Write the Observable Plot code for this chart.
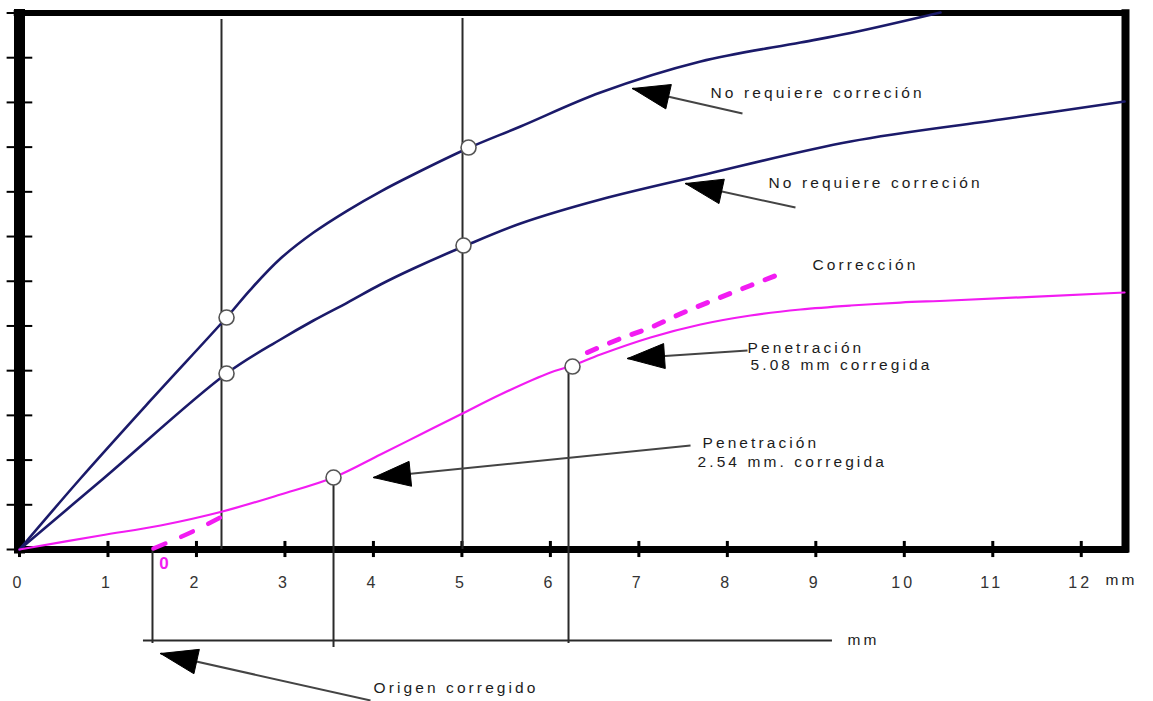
<!DOCTYPE html>
<html><head><meta charset="utf-8">
<script src="https://cdn.jsdelivr.net/npm/d3@7"></script>
<script src="https://cdn.jsdelivr.net/npm/@observablehq/plot@0.6"></script>
<style>body{margin:0;background:#fff;overflow:hidden}</style>
</head><body><div id="chart"></div>
<script>
// ---- data (mm on x, load units on y) ----
const xTicks = [0,1,2,3,4,5,6,7,8,9,10,11,12];
const yTicks = [0,1,2,3,4,5,6,7,8,9,10,11,12];
const xTickLabels = ["0","1","2","3","4","5","6","7","8","9","10","11","12"];

const curveUpper = [[0,0],[0.689,1.588],[1.481,3.333],[2.340,5.189],[2.611,5.815],[2.950,6.508],[3.323,7.090],[3.707,7.582],[4.080,8.007],[4.453,8.388],[5.075,8.980],[5.662,9.461],[6.566,10.221],[7.697,10.915],[8.827,11.340],[9.392,11.552],[10.409,12.011]];
const curveLower = [[0,0],[0.949,1.588],[2.340,3.936],[2.950,4.697],[3.323,5.122],[3.707,5.524],[4.080,5.927],[4.453,6.285],[5.018,6.777],[5.662,7.291],[6.566,7.828],[7.697,8.365],[9.392,9.125],[11.087,9.617],[12.489,10.020]];
const curveMeasured = [[0,0],[0.915,0.313],[1.594,0.537],[2.294,0.850],[2.950,1.230],[3.549,1.610],[4.080,2.125],[4.532,2.572],[4.984,3.019],[5.436,3.467],[6.001,3.959],[6.250,4.115],[6.566,4.361],[7.132,4.742],[7.697,5.032],[8.262,5.234],[8.827,5.368],[9.392,5.457],[9.957,5.524],[10.522,5.569],[12.489,5.748]];
const correctionLow = [[1.514,0.022],[1.910,0.358],[2.294,0.738]];
const correctionHigh = [[6.419,4.406],[6.793,4.719],[7.132,4.965],[7.505,5.301],[7.889,5.614],[8.262,5.905],[8.635,6.195]];

const circles = [[2.340,5.189],[2.340,3.936],[5.075,8.991],[5.018,6.799],[3.549,1.610],[6.250,4.093]];
const fullVerticals = [[2.283,11.854],[5.007,11.877]];
const dropLines = [[1.503,0,-2.102],[3.549,1.61,-2.192],[6.205,4.093,-2.102]];
const correctedAxis = {x1:1.401, x2:9.188, y:-2.035};

const arrows = [
  {tip:[6.928,10.311], tail:[8.171,9.752]},
  {tip:[7.527,8.186], tail:[8.770,7.649]},
  {tip:[6.872,4.272], tail:[8.228,4.451]},
  {tip:[4.001,1.610], tail:[7.584,2.326]},
  {tip:[1.594,-2.326], tail:[3.967,-3.377]}
];
const labels = [
  {x:7.810, y:10.221, text:"No requiere correción"},
  {x:8.465, y:8.186, text:"No requiere correción"},
  {x:8.962, y:6.352, text:"Corrección"},
  {x:8.228, y:4.496, text:"Penetración"},
  {x:8.262, y:4.115, text:"5.08 mm corregida"},
  {x:7.719, y:2.371, text:"Penetración"},
  {x:7.663, y:1.946, text:"2.54 mm. corregida"},
  {x:4.001, y:-3.109, text:"Origen corregido"},
  {x:9.358, y:-2.035, text:"mm"},
  {x:12.274, y:-0.693, text:"mm"}
];
const correctedZero = {x:1.650, y:-0.313, text:"0"};

// ---- layout ----
const W = 1153, H = 701;
const mL = 19, mR = 28, mT = 12.5, mB = 152;
const xDom = [0, 12.5], yDom = [0, 12];
const kx = (W - mL - mR) / (xDom[1] - xDom[0]);
const ky = (H - mT - mB) / (yDom[1] - yDom[0]);

function head(a, L, Wd, id) {
  const [tx, ty] = a.tip, [sx, sy] = a.tail;
  const dx = (sx - tx) * kx, dy = -(sy - ty) * ky;
  const len = Math.hypot(dx, dy), ux = dx / len, uy = dy / len;
  const pts = [[0,0],[ux*L - uy*Wd, uy*L + ux*Wd],[ux*L + uy*Wd, uy*L - ux*Wd],[0,0]];
  return pts.map(([ox, oy]) => ({x: tx + ox / kx, y: ty - oy / ky, id}));
}
const heads = arrows.flatMap((a, i) => head(a, 37, 12.5, i));
const toXY = (arr) => arr.map(([x, y]) => ({x, y}));

const blue = "#1b1a6a", magenta = "#f21cf2", ink = "#2a2a2a", textInk = "#1c1c1c";

const plot = Plot.plot({
  width: W, height: H,
  marginLeft: mL, marginRight: mR, marginTop: mT, marginBottom: mB,
  x: {domain: xDom, axis: null},
  y: {domain: yDom, axis: null},
  style: {fontFamily: "'Liberation Sans', Arial, sans-serif", background: "#fff", letterSpacing: "3.1px"},
  marks: [
    // frame
    Plot.ruleX([0], {y1: -0.1, y2: 12.08, stroke: "#000", strokeWidth: 11}),
    Plot.ruleY([12], {x1: -0.06, x2: 12.54, stroke: "#000", strokeWidth: 6}),
    Plot.ruleX([12.5], {y1: -0.08, y2: 12.07, stroke: "#000", strokeWidth: 8}),
    Plot.ruleY([0], {x1: -0.05, x2: 12.54, stroke: "#000", strokeWidth: 7}),
    // ticks
    Plot.ruleY(yTicks, {x1: -0.14, x2: 0.15, stroke: "#000", strokeWidth: 2}),
    Plot.ruleX(xTicks, {y1: -0.18, y2: 0.18, stroke: "#000", strokeWidth: 3}),
    Plot.text(xTicks, {x: d => d, y: -0.738, text: (d, i) => xTickLabels[i], fontSize: 16, fill: "#333", dx: -1}),
    // vertical guides
    Plot.ruleX(fullVerticals, {x: d => d[0], y1: 0, y2: d => d[1], stroke: ink, strokeWidth: 2}),
    Plot.ruleX(dropLines, {x: d => d[0], y1: d => d[1], y2: d => d[2], stroke: ink, strokeWidth: 2}),
    Plot.ruleY([correctedAxis], {y: "y", x1: "x1", x2: "x2", stroke: ink, strokeWidth: 2}),
    // curves
    Plot.line(toXY(curveUpper), {x: "x", y: "y", stroke: blue, strokeWidth: 2.6, curve: "catmull-rom"}),
    Plot.line(toXY(curveLower), {x: "x", y: "y", stroke: blue, strokeWidth: 2.6, curve: "catmull-rom"}),
    Plot.line(toXY(curveMeasured), {x: "x", y: "y", stroke: magenta, strokeWidth: 2.2, curve: "catmull-rom"}),
    Plot.line(toXY(correctionLow), {x: "x", y: "y", stroke: magenta, strokeWidth: 4.5, strokeDasharray: "13,17", curve: "catmull-rom"}),
    Plot.line(toXY(correctionHigh), {x: "x", y: "y", stroke: magenta, strokeWidth: 5, strokeDasharray: "10,14", curve: "catmull-rom"}),
    // circles
    Plot.dot(circles, {x: d => d[0], y: d => d[1], r: 7.5, fill: "#fff", stroke: "#555", strokeWidth: 1.6}),
    // arrows
    Plot.link(arrows, {x1: d => d.tail[0], y1: d => d.tail[1], x2: d => d.tip[0], y2: d => d.tip[1], stroke: "#444", strokeWidth: 2}),
    Plot.line(heads, {x: "x", y: "y", z: "id", fill: "#000", stroke: "#000", strokeWidth: 1}),
    // labels
    Plot.text(labels, {x: "x", y: "y", text: "text", textAnchor: "start", fontSize: 15.5, fill: textInk}),
    Plot.text([correctedZero], {x: "x", y: "y", text: "text", fontSize: 17, fontWeight: "bold", fill: magenta})
  ]
});
document.getElementById("chart").appendChild(plot);
</script>
</body></html>
